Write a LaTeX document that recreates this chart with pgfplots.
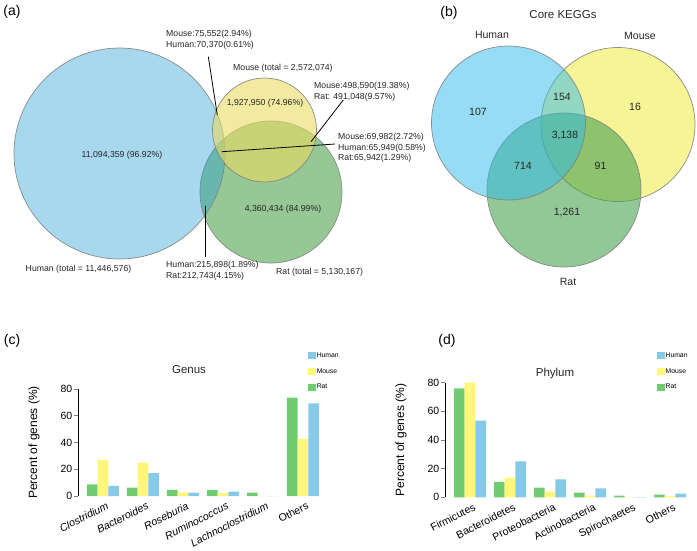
\documentclass[border=0pt]{standalone}
\usepackage{pgfplots}
\pgfplotsset{compat=1.18}
\usepackage{fontspec}
\setmainfont{Liberation Sans}

% Venn fills (a)
\definecolor{aRat}{RGB}{80,163,80}
\definecolor{aHuman}{RGB}{37,157,212}
\definecolor{aMouse}{RGB}{233,220,97}
% Venn fills (b)
\definecolor{bRat}{RGB}{72,163,80}
\definecolor{bHuman}{RGB}{46,186,236}
\definecolor{bMouse}{RGB}{238,238,80}
% bars
\definecolor{barRat}{RGB}{112,204,112}
\definecolor{barMouse}{RGB}{255,246,122}
\definecolor{barHuman}{RGB}{135,202,232}

\pgfplotsset{
  venn/.style 2 args={only marks, mark=*, mark options={fill=#1, fill opacity=#2, draw=black!50, draw opacity=0.9, line width=0.7pt}},
  pix/.style={at={(0pt,-550pt)}, anchor=south west, scale only axis,
    width=697pt, height=550pt, xmin=0, xmax=697, ymin=0, ymax=550,
    y dir=reverse, hide axis, clip=false},
  sq/.style={fill=#1, draw=none, legend image code/.code={\fill[#1] (0pt,-3.5pt) rectangle (7.5pt,3.5pt);}},
  barax/.style={
    scale only axis, width=245pt,
    ybar=0pt, bar width=10.8pt,
    xmin=-0.625, xmax=5.5, ymin=0, ymax=80,
    axis y line*=left, axis x line*=bottom, axis line style={-},
    x axis line style={draw=none}, major x tick style={draw=none},
    y axis line style={line width=0.8pt},
    xtick={0,...,5}, ytick={0,20,40,60,80},
    tick align=outside, major tick length=4pt,
    major y tick style={line width=0.8pt},
    /pgf/number format/assume math mode=true,
    yticklabel style={font=\fontsize{10.5}{12}\selectfont, inner sep=1.5pt},
    xticklabel style={rotate=27, anchor=north east, inner sep=1pt, yshift=-1.5pt, xshift=3pt, font=\fontsize{10.6}{12}\selectfont},
    ylabel={Percent of genes (\%)},
    ylabel style={font=\fontsize{12}{14}\selectfont, anchor=center},
    reverse legend, legend cell align=left,
    legend style={draw=none, fill=none, inner sep=0pt, row sep=7.5pt, anchor=north west,
      font=\fontsize{6.8}{7.5}\selectfont, nodes={inner sep=1pt}},
  },
}

\begin{document}
\begin{tikzpicture}
\useasboundingbox (0pt,0pt) rectangle (697pt,-550pt);

% Venn circles, pixel units
\begin{axis}[pix]
% (a) gene sets
\addplot[venn={aRat}{0.6}, mark size=71pt] coordinates {(271,192)};
\addplot[venn={aHuman}{0.4}, mark size=105.5pt] coordinates {(119.5,153.5)};
\addplot[venn={aMouse}{0.6}, mark size=52pt] coordinates {(264.5,130)};
% (b) core KEGGs
\addplot[venn={bMouse}{0.6}, mark size=77pt] coordinates {(618,124.5)};
\addplot[venn={bRat}{0.6}, mark size=77pt] coordinates {(564,190)};
\addplot[venn={bHuman}{0.5}, mark size=77pt] coordinates {(508.5,123)};
\end{axis}

% texts and leader lines, same pixel units
\begin{axis}[pix]
\draw[line width=0.8pt] (axis cs:208.3,56.7) -- (axis cs:217.3,115);
\draw[line width=0.8pt] (axis cs:343.3,100) -- (axis cs:311,141.7);
\draw[line width=0.8pt] (axis cs:221.7,151.7) -- (axis cs:335,144);
\draw[line width=0.8pt] (axis cs:205.7,205.7) -- (axis cs:205.7,256.7);

\begin{scope}[every node/.style={inner sep=0pt, font=\fontsize{8.7}{10.6}\selectfont, text=black!85}]
\node at (axis cs:122,155) {11,094,359 (96.92\%)};
\node at (axis cs:265,103) {1,927,950 (74.96\%)};
\node at (axis cs:283,209) {4,360,434 (84.99\%)};
\node[anchor=west] at (axis cs:233,68) {Mouse (total = 2,572,074)};
\node at (axis cs:78.5,269) {Human (total = 11,446,576)};
\node[anchor=west] at (axis cs:276,272) {Rat (total = 5,130,167)};
\node[anchor=west, align=left] at (axis cs:166,40) {Mouse:75,552(2.94\%)\\Human:70,370(0.61\%)};
\node[anchor=west, align=left] at (axis cs:314,92) {Mouse:498,590(19.38\%)\\Rat: 491,048(9.57\%)};
\node[anchor=west, align=left] at (axis cs:338,148) {Mouse:69,982(2.72\%)\\Human:65,949(0.58\%)\\Rat:65,942(1.29\%)};
\node[anchor=west, align=left] at (axis cs:166,271) {Human:215,898(1.89\%)\\Rat:212,743(4.15\%)};
\end{scope}

\begin{scope}[every node/.style={inner sep=0pt, font=\fontsize{10.5}{12}\selectfont, text=black!85}]
\node at (axis cs:478,112) {107};
\node at (axis cs:562,96.5) {154};
\node at (axis cs:635,107) {16};
\node at (axis cs:565,135.5) {3,138};
\node at (axis cs:523,166) {714};
\node at (axis cs:600.5,166) {91};
\node at (axis cs:567,212) {1,261};
\node at (axis cs:492,35) {Human};
\node at (axis cs:640,36) {Mouse};
\node at (axis cs:568,282) {Rat};
\node[font=\fontsize{11.5}{13}\selectfont] at (axis cs:563,15) {Core KEGGs};
\node[font=\fontsize{11.5}{13}\selectfont] at (axis cs:189,370) {Genus};
\node[font=\fontsize{11.5}{13}\selectfont] at (axis cs:555,374) {Phylum};
\end{scope}

\begin{scope}[every node/.style={inner sep=0pt, font=\fontsize{14}{16}\selectfont}]
\node at (axis cs:12,12) {(a)};
\node at (axis cs:449,13) {(b)};
\node at (axis cs:12,341) {(c)};
\node at (axis cs:447,341) {(d)};
\end{scope}
\end{axis}

% (c) genus
\begin{axis}[barax, at={(78pt,-496pt)}, anchor=south west, height=107pt,
  xticklabels={\textit{Clostridium}, \textit{Bacteroides}, \textit{Roseburia}, \textit{Ruminococcus}, \textit{Lachnoclostridium}, Others},
  ylabel style={at={(axis description cs:-0.18,0.5)}},
  legend style={at={(axis description cs:0.939,1.35)}}]
\addplot[sq=barRat] coordinates {(0,8.7) (1,6.2) (2,4.6) (3,4.4) (4,2.5) (5,73.5)};
\addlegendentry{Rat}
\addplot[sq=barMouse] coordinates {(0,26.9) (1,24.9) (2,2.7) (3,2.2) (4,0) (5,42.8)};
\addlegendentry{Mouse}
\addplot[sq=barHuman] coordinates {(0,7.5) (1,17.2) (2,2.5) (3,3.2) (4,0) (5,69.3)};
\addlegendentry{Human}
\end{axis}

% (d) phylum
\begin{axis}[barax, at={(445pt,-497.3pt)}, anchor=south west, height=114.6pt,
  xticklabels={Firmicutes, Bacteroidetes, Proteobacteria, Actinobacteria, Spirochaetes, Others},
  ylabel style={at={(axis description cs:-0.18,0.5)}},
  legend style={at={(axis description cs:0.865,1.272)}}]
\addplot[sq=barRat] coordinates {(0,76.1) (1,10.7) (2,6.7) (3,3.2) (4,1.1) (5,1.8)};
\addlegendentry{Rat}
\addplot[sq=barMouse] coordinates {(0,80) (1,13.7) (2,3.9) (3,1.1) (4,0.2) (5,0.9)};
\addlegendentry{Mouse}
\addplot[sq=barHuman] coordinates {(0,53.5) (1,25.1) (2,12.5) (3,6.3) (4,0.2) (5,2.5)};
\addlegendentry{Human}
\end{axis}
\end{tikzpicture}
\end{document}
